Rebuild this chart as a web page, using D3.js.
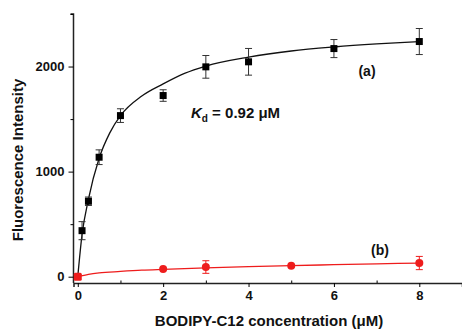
<!DOCTYPE html>
<html>
<head>
<meta charset="utf-8">
<script src="https://cdn.jsdelivr.net/npm/d3@7"></script>
<style>
  body { margin: 0; background: #fff; }
  text { font-family: "Liberation Sans", Arial, sans-serif; font-weight: bold; fill: #111; }
</style>
</head>
<body>
<script>
// data
var concA = [0.1, 0.25, 0.5, 1, 2, 3, 4, 6, 8];
var intensityA = [438, 718, 1137, 1533, 1724, 1997, 2045, 2171, 2238];
var errA = [86, 40, 70, 65, 55, 108, 127, 86, 124];

var concB = [0, 2, 3, 5, 8];
var intensityB = [0, 73, 92, 105, 130];
var errB = [0, 0, 60, 0, 63];

// fitted curves
var fitXA = [0, 0.1, 0.25, 0.5, 0.75, 1, 1.5, 2, 2.5, 3, 4, 5, 6, 7, 8];
var fitYA = [0, 400, 737, 1127, 1369, 1533, 1720, 1835, 1935, 2005, 2090, 2148, 2186, 2215, 2238];
var fitXB = [0, 0.25, 0.5, 1, 1.5, 2, 3, 4, 5, 6, 7, 8];
var fitYB = [0, 22, 36, 50, 62, 70, 84, 95, 105, 114, 122, 130];

var xTicks = [0, 2, 4, 6, 8];
var xMinor = [1, 3, 5, 7];
var yTicks = [0, 1000, 2000];
var yMinor = [500, 1500, 2500];

var w = 462, h = 329;
var red = "#ee1c1c";

var svg = d3.select("body").append("svg")
    .attr("width", w)
    .attr("height", h);

var x = d3.scaleLinear().domain([-0.1, 9]).range([73.5, 462]);
var y = d3.scaleLinear().domain([-60, 2500]).range([283, 14]);

// axes
svg.append("g")
    .attr("transform", "translate(0,283)")
    .call(d3.axisBottom(x).tickValues(xTicks).tickSize(4).tickPadding(4).tickFormat(d3.format("d")))
    .call(function (g) {
        g.select(".domain").attr("stroke", "#222").attr("stroke-width", 1.5);
        g.selectAll("text").style("font-size", "13px");
    });
svg.append("g")
    .attr("transform", "translate(0,283)")
    .call(d3.axisTop(x).tickValues(xMinor).tickSize(2.5).tickFormat(""))
    .call(function (g) { g.select(".domain").remove(); });

svg.append("g")
    .attr("transform", "translate(73.5,0)")
    .call(d3.axisLeft(y).tickValues(yTicks).tickSize(5).tickPadding(4).tickFormat(d3.format("d")))
    .call(function (g) {
        g.select(".domain").attr("stroke", "#222").attr("stroke-width", 1.5).attr("d", "M-3,14H0V283");
        g.selectAll("text").style("font-size", "13px");
    });
svg.append("g")
    .attr("transform", "translate(73.5,0)")
    .call(d3.axisLeft(y).tickValues(yMinor).tickSize(3).tickFormat(""))
    .call(function (g) { g.select(".domain").remove(); });

// fit lines
var lineA = d3.line().x(function (d) { return x(d[0]); }).y(function (d) { return y(d[1]); }).curve(d3.curveMonotoneX);
svg.append("path")
    .datum(d3.zip(fitXA, fitYA))
    .attr("d", lineA)
    .attr("fill", "none")
    .attr("stroke", "#111")
    .attr("stroke-width", 1.3);
svg.append("path")
    .datum(d3.zip(fitXB, fitYB))
    .attr("d", lineA)
    .attr("fill", "none")
    .attr("stroke", red)
    .attr("stroke-width", 1.3);

// error bars
function errorBars(xs, ys, es, color) {
    var g = svg.append("g").attr("stroke", color).attr("stroke-width", 1);
    xs.forEach(function (xv, i) {
        if (!es[i]) return;
        var cx = x(xv), y1 = y(ys[i] + es[i]), y2 = y(ys[i] - es[i]);
        g.append("line").attr("x1", cx).attr("x2", cx).attr("y1", y1).attr("y2", y2);
        g.append("line").attr("x1", cx - 3.5).attr("x2", cx + 3.5).attr("y1", y1).attr("y2", y1);
        g.append("line").attr("x1", cx - 3.5).attr("x2", cx + 3.5).attr("y1", y2).attr("y2", y2);
    });
}
errorBars(concA, intensityA, errA, "#333");
errorBars(concB, intensityB, errB, red);

// markers
svg.selectAll("rect.pa")
    .data(d3.zip(concA, intensityA))
    .enter().append("rect")
    .attr("class", "pa")
    .attr("x", function (d) { return x(d[0]) - 3.5; })
    .attr("y", function (d) { return y(d[1]) - 3.5; })
    .attr("width", 7)
    .attr("height", 7)
    .attr("fill", "#000");

svg.selectAll("rect.pb")
    .data(d3.zip(concB, intensityB))
    .enter().append("rect")
    .attr("class", "pb")
    .attr("x", function (d) { return x(d[0]) - 4; })
    .attr("y", function (d) { return y(d[1]) - 4; })
    .attr("width", 8)
    .attr("height", 8)
    .attr("rx", function (d) { return d[0] === 0 ? 1.5 : 4; })
    .attr("fill", red);

// labels
svg.append("text")
    .attr("x", 269)
    .attr("y", 326)
    .attr("text-anchor", "middle")
    .style("font-size", "15px")
    .text("BODIPY-C12 concentration (μM)");

svg.append("text")
    .attr("transform", "translate(23,160) rotate(-90)")
    .attr("text-anchor", "middle")
    .style("font-size", "15px")
    .text("Fluorescence Intensity");

svg.append("text")
    .attr("x", 367).attr("y", 76)
    .attr("text-anchor", "middle")
    .style("font-size", "14px")
    .text("(a)");
svg.append("text")
    .attr("x", 380).attr("y", 255)
    .attr("text-anchor", "middle")
    .style("font-size", "14px")
    .text("(b)");

var kd = svg.append("text")
    .attr("x", 191).attr("y", 118)
    .style("font-size", "15px");
kd.append("tspan").style("font-style", "italic").text("K");
kd.append("tspan").attr("dy", 4).style("font-size", "10px").text("d");
kd.append("tspan").attr("dy", -4).text(" = 0.92 μM");
</script>
</body>
</html>
